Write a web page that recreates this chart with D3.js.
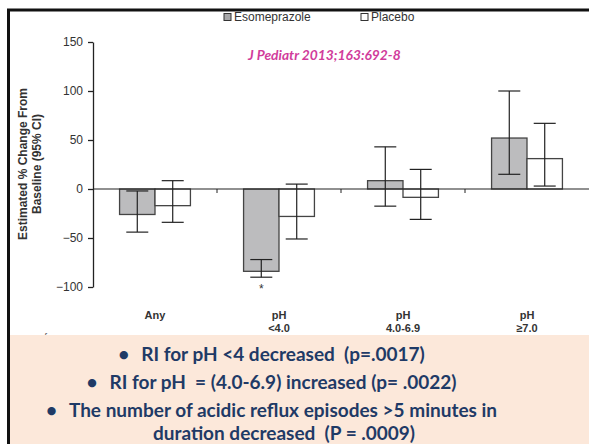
<!DOCTYPE html>
<html>
<head>
<meta charset="utf-8">
<script src="https://cdn.jsdelivr.net/npm/d3@7.9.0/dist/d3.min.js"></script>
<style>
  body { margin: 0; background: #fff; }
  svg { display: block; font-family: Arial, "Liberation Sans", sans-serif; }
  .pre { white-space: pre; }
</style>
</head>
<body>
<div id="chart"></div>
<script>
// chart values
const categories = ['Any', 'pH <4.0', 'pH 4.0-6.9', 'pH ≥7.0'];
const categoryLines = [['Any'], ['pH', '<4.0'], ['pH', '4.0-6.9'], ['pH', '≥7.0']];
const seriesNames = ['Esomeprazole', 'Placebo'];
const esoValues = [-26, -84, 8.5, 52];
const esoLow = [-44, -90, -17.5, 15];
const esoHigh = [-2, -72, 43, 100];
const placeboValues = [-17, -28, -8.5, 31];
const placeboLow = [-34, -51, -31, 3];
const placeboHigh = [8.5, 5, 20, 67];
const yTicks = [-100, -50, 0, 50, 100, 150];
const bullets = [
  'RI for pH <4 decreased  (p=.0017)',
  'RI for pH  = (4.0-6.9) increased (p= .0022)',
  'The number of acidic reflux episodes >5 minutes in',
];
const lastLine = 'duration decreased  (P = .0009)';

const width = 589;
const height = 444;

const svg = d3.select('#chart')
  .append('svg')
  .attr('width', width)
  .attr('height', height);

// frame
svg.append('line').attr('x1', 7).attr('x2', width).attr('y1', 10).attr('y2', 10)
  .attr('stroke', '#111').attr('stroke-width', 3);
svg.append('line').attr('x1', 8.5).attr('x2', 8.5).attr('y1', 9).attr('y2', height)
  .attr('stroke', '#111').attr('stroke-width', 3);

const yScale = d3.scaleLinear().domain([-100, 150]).range([287, 42]);
const xScale = d3.scaleBand().domain(categories).range([93, 589]);
const xSub = d3.scaleBand().domain(seriesNames).range([0, xScale.bandwidth()]).paddingOuter(0.75);

// y axis
const yAxis = d3.axisLeft(yScale).tickValues(yTicks).tickSize(5).tickSizeOuter(0).tickPadding(5);
const gy = svg.append('g').attr('transform', 'translate(93,0)').call(yAxis);
gy.select('.domain').attr('stroke', '#222').attr('stroke-width', 1.3);
gy.selectAll('.tick line').attr('stroke', '#222').attr('stroke-width', 1.3);
gy.selectAll('.tick text').attr('font-size', 12).attr('fill', '#333');

// y title
const yt = svg.append('text')
  .attr('transform', 'translate(0,164) rotate(-90)')
  .attr('text-anchor', 'middle')
  .attr('font-size', 12).attr('font-weight', 'bold').attr('fill', '#333');
yt.append('tspan').attr('x', 0).attr('y', 27).text('Estimated % Change From');
yt.append('tspan').attr('x', 0).attr('y', 41).text('Baseline (95% CI)');

// bars
const rows = categories.map((c, i) => ([
  { cat: c, series: 'Esomeprazole', v: esoValues[i], lo: esoLow[i], hi: esoHigh[i] },
  { cat: c, series: 'Placebo', v: placeboValues[i], lo: placeboLow[i], hi: placeboHigh[i] },
])).flat();

const bars = svg.append('g');
bars.selectAll('rect')
  .data(rows)
  .join('rect')
  .attr('x', (d) => xScale(d.cat) + xSub(d.series))
  .attr('width', xSub.bandwidth())
  .attr('y', (d) => yScale(Math.max(0, d.v)))
  .attr('height', (d) => Math.abs(yScale(d.v) - yScale(0)))
  .attr('fill', (d) => d.series === 'Esomeprazole' ? '#bcbcbe' : '#fff')
  .attr('stroke', '#444')
  .attr('stroke-width', 1.3);

// x axis (zero line) with ticks between groups
const gx = svg.append('g');
gx.append('line').attr('x1', 93).attr('x2', width)
  .attr('y1', yScale(0)).attr('y2', yScale(0))
  .attr('stroke', '#222').attr('stroke-width', 1.2);
gx.selectAll('.sep')
  .data(categories.slice(1))
  .join('line')
  .attr('x1', (d) => xScale(d)).attr('x2', (d) => xScale(d))
  .attr('y1', yScale(0)).attr('y2', yScale(0) + 4)
  .attr('stroke', '#222');

// error bars
const err = svg.append('g').attr('stroke', '#222').attr('stroke-width', 1.2);
const cx = (d) => xScale(d.cat) + xSub(d.series) + xSub.bandwidth() / 2;
err.selectAll('.stem').data(rows).join('line')
  .attr('x1', cx).attr('x2', cx)
  .attr('y1', (d) => yScale(d.lo)).attr('y2', (d) => yScale(d.hi));
err.selectAll('.capHi').data(rows).join('line')
  .attr('x1', (d) => cx(d) - 11).attr('x2', (d) => cx(d) + 11)
  .attr('y1', (d) => yScale(d.hi)).attr('y2', (d) => yScale(d.hi));
err.selectAll('.capLo').data(rows).join('line')
  .attr('x1', (d) => cx(d) - 11).attr('x2', (d) => cx(d) + 11)
  .attr('y1', (d) => yScale(d.lo)).attr('y2', (d) => yScale(d.lo));

// significance star
svg.append('text')
  .attr('x', xScale(categories[1]) + xSub('Esomeprazole') + xSub.bandwidth() / 2)
  .attr('y', yScale(-90) + 16)
  .attr('text-anchor', 'middle').attr('font-size', 12).attr('fill', '#333')
  .text('*');

// category labels
const cl = svg.append('g').attr('font-size', 11).attr('font-weight', 'bold')
  .attr('fill', '#333').attr('text-anchor', 'middle');
categoryLines.forEach((lines, i) => {
  const t = cl.append('text');
  lines.forEach((l, j) => t.append('tspan')
    .attr('x', xScale(categories[i]) + xScale.bandwidth() / 2)
    .attr('y', 319 + j * 13).text(l));
});

// legend
const legend = svg.append('g').attr('font-size', 12).attr('fill', '#333');
const legendX = [224, 361];
seriesNames.forEach((s, i) => {
  legend.append('rect').attr('x', legendX[i]).attr('y', 13.5).attr('width', 7).attr('height', 7)
    .attr('fill', i === 0 ? '#a8a8aa' : '#fff').attr('stroke', '#333');
  legend.append('text').attr('x', legendX[i] + 10).attr('y', 21).text(s);
});

// citation
svg.append('text')
  .attr('x', 248).attr('y', 60)
  .attr('font-family', 'Lato, "Open Sans", sans-serif')
  .attr('font-size', 13.8).attr('font-weight', 'bold').attr('font-style', 'italic')
  .attr('fill', '#d13c9b')
  .text('J Pediatr 2013;163:692-8');

// clipped text peeking above the box
svg.append('text').attr('x', 11).attr('y', 341).attr('font-size', 10)
  .attr('fill', '#666').text('ep  ep  of');

// summary box
svg.append('rect').attr('x', 10).attr('y', 335).attr('width', width - 10).attr('height', height - 335)
  .attr('fill', '#fce8da');

const box = svg.append('g')
  .attr('font-family', 'Lato, "Open Sans", sans-serif')
  .attr('font-size', 19).attr('font-weight', 'bold').attr('fill', '#1f3a66');
const textCenter = 283;
const lineY = [361, 389, 417];
bullets.forEach((b, i) => {
  const t = box.append('text').attr('class', 'pre').attr('y', lineY[i]).text(b);
  const w = t.node().getComputedTextLength();
  const x0 = textCenter - w / 2;
  t.attr('x', x0);
  box.append('text').attr('x', x0 - 23).attr('y', lineY[i]).text('•');
});
const last = box.append('text').attr('class', 'pre').attr('y', 440).text(lastLine);
last.attr('x', textCenter + 1 - last.node().getComputedTextLength() / 2);
</script>
</body>
</html>
